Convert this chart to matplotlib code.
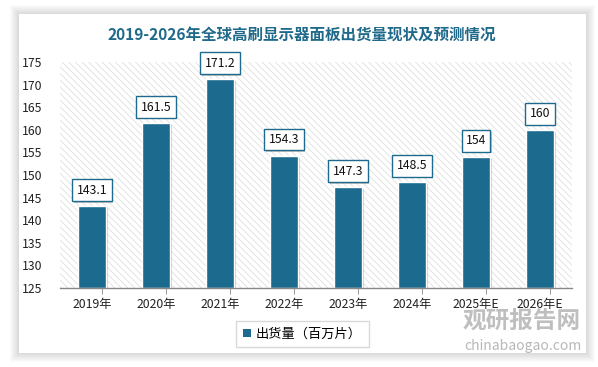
import matplotlib
matplotlib.use("Agg")
import matplotlib.pyplot as plt
import matplotlib.patheffects as pe
from matplotlib.patches import Rectangle
import numpy as np

plt.rcParams['font.family'] = ['Noto Sans CJK SC', 'DejaVu Sans']
plt.rcParams['hatch.linewidth'] = 0.5
plt.rcParams['hatch.color'] = '#d9d9d9'

# data
years = ['2019年', '2020年', '2021年', '2022年', '2023年', '2024年', '2025年E', '2026年E']
shipments = [143.1, 161.5, 171.2, 154.3, 147.3, 148.5, 154, 160]
value_labels = ['143.1', '161.5', '171.2', '154.3', '147.3', '148.5', '154', '160']
yticks = [125, 130, 135, 140, 145, 150, 155, 160, 165, 170, 175]

bar_color = '#1c6b8e'
title_color = '#1f6a8a'

W, H = 598, 367
fig = plt.figure(figsize=(W / 100, H / 100), dpi=100)
fig.patch.set_facecolor('white')

# card with soft shadow
cx0, cy0, cx1, cy1 = 19, 14, 586, 353
for i in range(9, 0, -1):
    sh = Rectangle(((cx0 - i) / W, 1 - (cy1 + i) / H), (cx1 - cx0 + 2 * i) / W, (cy1 - cy0 + 2 * i) / H,
                   transform=fig.transFigure, facecolor='#000000', alpha=0.016, edgecolor='none', zorder=-2)
    fig.patches.append(sh)
card = Rectangle((cx0 / W, 1 - cy1 / H), (cx1 - cx0) / W, (cy1 - cy0) / H,
                 transform=fig.transFigure, facecolor='white', edgecolor='none', zorder=-1)
fig.patches.append(card)

ax = fig.add_axes([60 / W, (H - 288) / H, 512 / W, 226 / H])
ax.set_facecolor('none')
ax.add_patch(Rectangle((0, 0), 1, 1, transform=ax.transAxes, facecolor='white',
                       hatch='\\\\\\\\\\', edgecolor='#d9d9d9', linewidth=0, zorder=0))

x = np.arange(len(years))
bars = ax.bar(x, [v - 125 for v in shipments], bottom=125, width=0.44, color=bar_color,
              edgecolor='white', linewidth=1.0, zorder=3)
for b in bars:
    b.set_path_effects([pe.SimplePatchShadow(offset=(1.5, -1.5), shadow_rgbFace='#888888', alpha=0.4), pe.Normal()])

for xi, v, lab in zip(x, shipments, value_labels):
    t = ax.annotate(lab, (xi, v), xytext=(0, 11.5), textcoords='offset points', ha='center', va='center',
                    fontsize=8.8, color='#111111', zorder=5,
                    bbox=dict(boxstyle='square,pad=0.35', facecolor='white', edgecolor=bar_color, linewidth=1.0))
    t.get_bbox_patch().set_path_effects([pe.SimplePatchShadow(offset=(1.2, -1.2), alpha=0.3), pe.Normal()])

ax.set_xlim(-0.5, len(years) - 0.5)
ax.set_ylim(125, 175)
ax.set_yticks(yticks)
ax.set_yticklabels([str(t) for t in yticks], fontsize=8.8, color='#222222')
ax.tick_params(axis='y', length=0, pad=13)
ax.set_xticks(x)
ax.set_xticklabels(years, fontsize=8.8, color='#222222')
ax.tick_params(axis='x', length=0, pad=7)
ax.set_xticks(x + 0.16, minor=True)
ax.tick_params(axis='x', which='minor', length=4, color='#888888', direction='out')
for s in ['top', 'right', 'left']:
    ax.spines[s].set_visible(False)
ax.spines['bottom'].set_color('#888888')
ax.spines['bottom'].set_linewidth(1.0)
ax.spines['bottom'].set_zorder(4)

fig.text(0.505, 1 - 35 / H, '2019-2026年全球高刷显示器面板出货量现状及预测情况', ha='center', va='center',
         fontsize=11.2, fontweight='bold', color=title_color)

leg = ax.legend([bars[0]], ['出货量（百万片）'], loc='center', bbox_to_anchor=(302.5 / W, 1 - 334 / H),
                bbox_transform=fig.transFigure, fontsize=9.5, frameon=True, fancybox=False,
                handlelength=0.6, handleheight=0.6, handletextpad=0.4, borderpad=0.5)
leg.get_frame().set_edgecolor('#d0d0d0')
leg.get_frame().set_linewidth(1.0)
leg.legend_handles[0].set_path_effects([])
leg.legend_handles[0].set_edgecolor('none')

# watermark
fig.text(522 / W, 1 - 321 / H, '观研报告网', ha='center', va='center', fontsize=17, fontweight='bold',
         color='#b0b0b0', alpha=0.8, zorder=10)
fig.text(523 / W, 1 - 346 / H, 'chinabaogao.com', ha='center', va='center', fontsize=10,
         color='#b0b0b0', alpha=0.9, zorder=10)

fig.savefig('out.png', dpi=100)
